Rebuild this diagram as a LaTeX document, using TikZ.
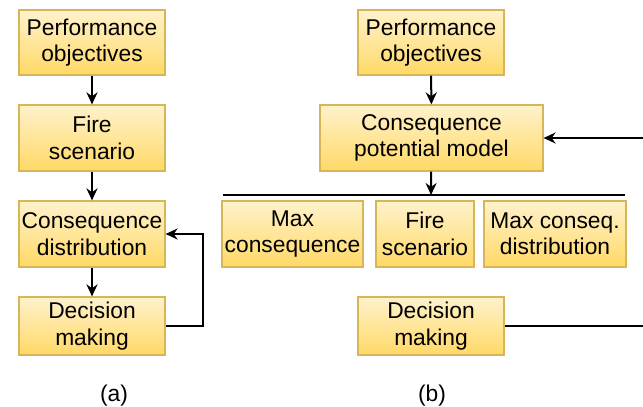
\documentclass[tikz,border=0pt]{standalone}
\usepackage{fontspec}
\setmainfont{Liberation Sans}
\usetikzlibrary{arrows.meta}
\definecolor{boxtop}{HTML}{FFF2CC}
\definecolor{boxbot}{HTML}{FFD966}
\definecolor{boxline}{HTML}{D6B656}
\begin{document}
\begin{tikzpicture}[>={Stealth[length=12pt,width=11pt]}, x=1pt, y=-1pt,
    box/.style={draw=boxline, line width=1.2pt, top color=boxtop, bottom color=boxbot,
        align=center, inner sep=0pt, minimum height=66pt,
        font=\fontsize{22.8}{26.5}\selectfont},
    link/.style={line width=2pt}]
    \useasboundingbox (0,0) rectangle (643,407);
    \node[box, minimum width=146pt, minimum height=65pt](pa) at (92,42.5){Performance\\objectives};
    \node[box, minimum width=146pt](fa) at (92,138){Fire\\scenario};
    \node[box, minimum width=146pt](ca) at (92,234){Consequence\\distribution};
    \node[box, minimum width=146pt, minimum height=58pt](da) at (92,326){Decision\\making};
    \draw[link,->](pa)--(fa);
    \draw[link,->](fa)--(ca);
    \draw[link,->](ca)--(da);
    \draw[link,->](da.east)-|(203,234)--(ca.east);
    \node[box, minimum width=146pt, minimum height=65pt](pb) at (431,42.5){Performance\\objectives};
    \node[box, minimum width=223pt](mb) at (431.5,138){Consequence\\potential model};
    \node[box, minimum width=141pt](maxb) at (292.5,234){Max\\consequence};
    \node[box, minimum width=98pt](fb) at (425,234){Fire\\scenario};
    \node[box, minimum width=142pt](distb) at (555,234){Max conseq.\\distribution};
    \node[box, minimum width=146pt, minimum height=58pt](db) at (431,326){Decision\\making};
    \coordinate (split) at (431,195);
    \coordinate (back) at (643,138);
    \coordinate (out) at (643,326);
    \draw[link,->](pb)--(mb);
    \draw[link,->](mb)--(split);
    \draw[link](223,195)--(625,195);
    \draw[link,->](back)--(mb.east);
    \draw[link](db.east)--(out);
    \node[font=\fontsize{22.8}{26.5}\selectfont](capa) at (114,396){(a)};
    \node[font=\fontsize{22.8}{26.5}\selectfont](capb) at (432,396){(b)};
\end{tikzpicture}
\end{document}
